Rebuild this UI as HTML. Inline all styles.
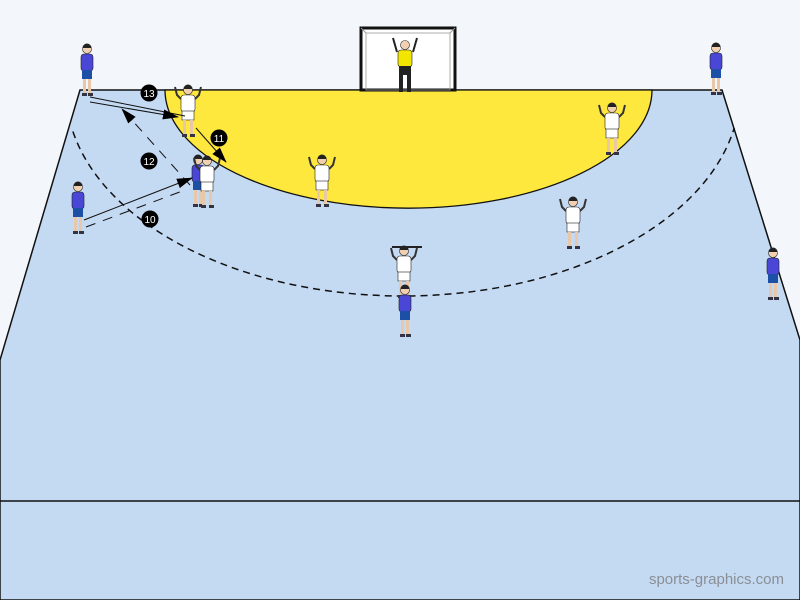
<!DOCTYPE html>
<html><head><style>body{margin:0;background:#f3f7fb}svg{display:block}</style></head><body>
<svg width="800" height="600" viewBox="0 0 800 600" xmlns="http://www.w3.org/2000/svg" font-family="Liberation Sans, sans-serif">
<defs>
<marker id="ah" markerWidth="16" markerHeight="10" refX="15" refY="5" orient="auto" markerUnits="userSpaceOnUse"><path d="M0,0 L16,5 L0,10z" fill="#000"/></marker>
<clipPath id="cp"><rect x="0" y="128" width="800" height="300"/></clipPath>
<g id="blue">
 <rect x="-6" y="10" width="12" height="17" rx="3" fill="#4a46d6" stroke="#222" stroke-width="0.6"/>
 <rect x="-5" y="26" width="10" height="9" fill="#1c4fa6"/>
 <rect x="-4" y="35" width="3" height="15" fill="#e8c8a8"/><rect x="1" y="35" width="3" height="15" fill="#e8c8a8"/>
 <rect x="-5" y="49" width="5" height="3" fill="#334"/><rect x="1" y="49" width="5" height="3" fill="#334"/>
 <circle cx="0" cy="5" r="4.5" fill="#f0d0b0" stroke="#222" stroke-width="0.6"/><path d="M-4.5,4 A4.5,4.5 0 0 1 4.5,4z" fill="#222"/>
</g>
<g id="white">
 <path d="M-13,2 L-11,10 L-7,14 M13,2 L11,10 L7,14" stroke="#333" fill="none" stroke-width="2"/>
 <rect x="-7" y="10" width="14" height="17" rx="3" fill="#fff" stroke="#222" stroke-width="0.6"/>
 <rect x="-6" y="26" width="12" height="9" fill="#fff" stroke="#222" stroke-width="0.6"/>
 <rect x="-5" y="35" width="3" height="15" fill="#e8c8a8"/><rect x="2" y="35" width="3" height="15" fill="#e8c8a8"/>
 <rect x="-6" y="49" width="5" height="3" fill="#334"/><rect x="2" y="49" width="5" height="3" fill="#334"/>
 <circle cx="0" cy="5" r="4.5" fill="#f0d0b0" stroke="#222" stroke-width="0.6"/><path d="M-4.5,4 A4.5,4.5 0 0 1 4.5,4z" fill="#222"/>
</g>
</defs>
<rect width="800" height="600" fill="#f3f7fb"/>
<path d="M80,90 L722,90 L800,340 L800,600 L0,600 L0,360 Z" fill="#c4d9f2" stroke="#111" stroke-width="1.5"/>
<line x1="0" y1="501" x2="800" y2="501" stroke="#111" stroke-width="1.5"/>
<path d="M165,90 A243,118 0 0 0 652,90 Z" fill="#ffe83d" stroke="#111" stroke-width="1.3"/>
<ellipse cx="403" cy="90" rx="337" ry="206" fill="none" stroke="#111" stroke-width="1.5" stroke-dasharray="7,5" clip-path="url(#cp)"/>
<rect x="361" y="28" width="94" height="62" fill="#fff" stroke="#111" stroke-width="3"/>
<rect x="366" y="33" width="84" height="57" fill="none" stroke="#999" stroke-width="0.8"/>
<line x1="361" y1="28" x2="366" y2="33" stroke="#999"/><line x1="455" y1="28" x2="450" y2="33" stroke="#999"/>
<g transform="translate(405,40)">
 <path d="M-12,-2 L-8,12 M12,-2 L8,12" stroke="#222" stroke-width="2"/>
 <rect x="-7" y="10" width="14" height="17" rx="3" fill="#f2e600" stroke="#222" stroke-width="0.6"/>
 <rect x="-6" y="26" width="12" height="9" fill="#222"/>
 <rect x="-6" y="35" width="4" height="17" fill="#222"/><rect x="2" y="35" width="4" height="17" fill="#222"/>
 <circle cx="0" cy="5" r="4.5" fill="#f0d0b0" stroke="#222" stroke-width="0.6"/>
</g>
<use href="#blue" x="87" y="44"/>
<use href="#blue" x="716" y="43"/>
<use href="#blue" x="78" y="182"/>
<use href="#blue" x="773" y="248"/>
<use href="#white" x="188" y="85"/>
<use href="#white" x="612" y="103"/>
<use href="#white" x="322" y="155"/>
<use href="#white" x="573" y="197"/>
<use href="#blue" x="198" y="155"/>
<use href="#white" x="207" y="156"/>
<use href="#white" x="404" y="246"/>
<line x1="392" y1="247" x2="422" y2="247" stroke="#222" stroke-width="2"/>
<use href="#blue" x="405" y="285"/>
<line x1="90" y1="97" x2="185" y2="116" stroke="#111" stroke-width="1"/>
<line x1="90" y1="102" x2="178" y2="117" stroke="#111" stroke-width="1" marker-end="url(#ah)"/>
<line x1="196" y1="128" x2="226" y2="162" stroke="#111" stroke-width="1" marker-end="url(#ah)"/>
<line x1="190" y1="185" x2="122" y2="109" stroke="#111" stroke-width="1" stroke-dasharray="10,8" marker-end="url(#ah)"/>
<line x1="84" y1="220" x2="192" y2="178" stroke="#111" stroke-width="1" marker-end="url(#ah)"/>
<line x1="86" y1="227" x2="185" y2="190" stroke="#111" stroke-width="1" stroke-dasharray="10,8"/>
<g fill="#000"><circle cx="149" cy="93" r="8.5"/><circle cx="219" cy="138" r="8.5"/><circle cx="149" cy="161" r="8.5"/><circle cx="150" cy="219" r="8.5"/></g>
<g fill="#fff" font-size="10" text-anchor="middle">
<text x="149" y="97">13</text><text x="219" y="142">11</text><text x="149" y="165">12</text><text x="150" y="223">10</text></g>
<text x="784" y="584" font-size="15" fill="#8a8f96" text-anchor="end">sports-graphics.com</text>
</svg>
</body></html>
